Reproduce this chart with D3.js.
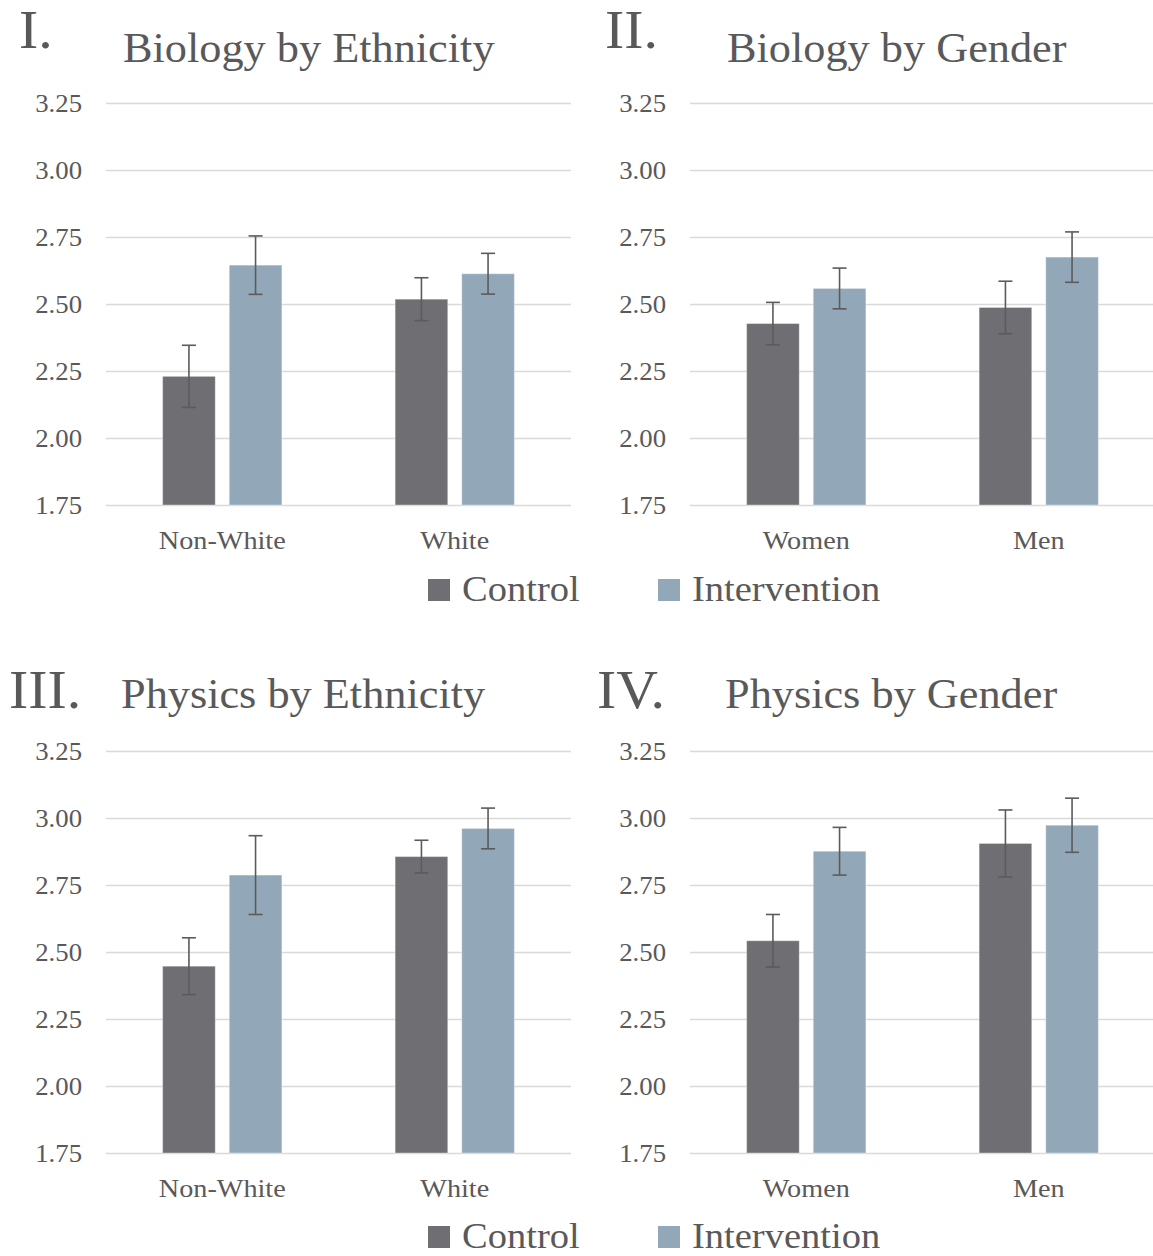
<!DOCTYPE html>
<html>
<head>
<meta charset="utf-8">
<script src="https://cdn.jsdelivr.net/npm/d3@7"></script>
<style>
  html, body { margin: 0; padding: 0; background: #fff; }
  svg { display: block; }
  svg text { font-family: "Liberation Serif", "DejaVu Serif", serif; fill: #595959; }
</style>
</head>
<body>
<svg id="chart" width="1153" height="1256"></svg>
<script>
// Series and categories
const series = ["Control", "Intervention"];
const ethnicityCategories = ["Non-White", "White"];
const genderCategories = ["Women", "Men"];
const yTicks = [1.75, 2.00, 2.25, 2.50, 2.75, 3.00, 3.25];
const yTickLabels = ["1.75", "2.00", "2.25", "2.50", "2.75", "3.00", "3.25"];

// Mean scores and error margins, one array per panel and series
const bioEthnicityControl = [2.230, 2.518];
const bioEthnicityControlErr = [0.116, 0.080];
const bioEthnicityIntervention = [2.645, 2.613];
const bioEthnicityInterventionErr = [0.109, 0.076];

const bioGenderControl = [2.427, 2.487];
const bioGenderControlErr = [0.079, 0.098];
const bioGenderIntervention = [2.558, 2.675];
const bioGenderInterventionErr = [0.076, 0.094];

const physEthnicityControl = [2.447, 2.856];
const physEthnicityControlErr = [0.106, 0.061];
const physEthnicityIntervention = [2.787, 2.961];
const physEthnicityInterventionErr = [0.147, 0.076];

const physGenderControl = [2.542, 2.905];
const physGenderControlErr = [0.098, 0.125];
const physGenderIntervention = [2.876, 2.973];
const physGenderInterventionErr = [0.089, 0.101];

const panelNumerals = ["I.", "II.", "III.", "IV."];
const panelTitles = ["Biology by Ethnicity", "Biology by Gender", "Physics by Ethnicity", "Physics by Gender"];

// Styling
const fontStack = "'Liberation Serif', 'DejaVu Serif', serif";
const textColor = "#595959";
const colors = { Control: "#6f6e73", Intervention: "#92a8b8" };
const gridColor = "#d9d9d9";
const errColor = "#5b5b5b";
const widen = 1.07; // horizontal stretch to give the serif a rounder, wider set

// Widen text horizontally while keeping its anchor
function widenText(sel, k) {
  sel.each(function () {
    const len = this.getComputedTextLength();
    d3.select(this).attr("textLength", len * k).attr("lengthAdjust", "spacingAndGlyphs");
  });
}

const svg = d3.select("#chart");

// Layout of the four panels
const plotW = 465, plotH = 402;
const layouts = [
  { left: 106, top: 103, numX: 19, numY: 48, titleX: 123, titleY: 62, cats: ethnicityCategories,
    ctrl: bioEthnicityControl, ctrlErr: bioEthnicityControlErr, intv: bioEthnicityIntervention, intvErr: bioEthnicityInterventionErr },
  { left: 690, top: 103, numX: 605, numY: 48, titleX: 727, titleY: 62, cats: genderCategories,
    ctrl: bioGenderControl, ctrlErr: bioGenderControlErr, intv: bioGenderIntervention, intvErr: bioGenderInterventionErr },
  { left: 106, top: 751, numX: 9, numY: 708, titleX: 121, titleY: 708, cats: ethnicityCategories,
    ctrl: physEthnicityControl, ctrlErr: physEthnicityControlErr, intv: physEthnicityIntervention, intvErr: physEthnicityInterventionErr },
  { left: 690, top: 751, numX: 597, numY: 708, titleX: 725, titleY: 708, cats: genderCategories,
    ctrl: physGenderControl, ctrlErr: physGenderControlErr, intv: physGenderIntervention, intvErr: physGenderInterventionErr }
];

const y = d3.scaleLinear().domain([1.75, 3.25]).range([plotH, 0]);

layouts.forEach((p, i) => {
  const g = svg.append("g").attr("transform", `translate(${p.left},${p.top})`);

  // Panel numeral and title
  svg.append("text").attr("x", p.numX).attr("y", p.numY)
    .attr("font-size", 54).text(panelNumerals[i]).call(widenText, widen);
  svg.append("text").attr("x", p.titleX).attr("y", p.titleY)
    .attr("font-size", 43).text(panelTitles[i]).call(widenText, 1.03);

  // Horizontal gridlines
  g.selectAll("line.grid").data(yTicks).join("line")
    .attr("class", "grid")
    .attr("x1", 0).attr("x2", plotW)
    .attr("y1", d => Math.round(y(d)) + 0.5).attr("y2", d => Math.round(y(d)) + 0.5)
    .attr("stroke", gridColor).attr("stroke-width", 1.3);

  // Y axis labels
  const yAxis = d3.axisLeft(y).tickValues(yTicks)
    .tickFormat((d, k) => yTickLabels[k]).tickSize(0).tickPadding(24);
  const ya = g.append("g").call(yAxis)
    .attr("font-family", fontStack).attr("font-size", 25);
  ya.select(".domain").remove();
  ya.selectAll("text").attr("fill", textColor).attr("dy", "8.5px")
    .call(widenText, widen);

  // Category and series scales
  const x0 = d3.scaleBand().domain(p.cats).range([0, plotW]);
  const x1 = d3.scaleBand().domain(series).range([0, x0.bandwidth()])
    .paddingInner(0.21).paddingOuter(0.85);

  const rows = p.cats.map((c, k) => ({
    cat: c,
    values: [
      { s: "Control", v: p.ctrl[k], e: p.ctrlErr[k] },
      { s: "Intervention", v: p.intv[k], e: p.intvErr[k] }
    ]
  }));

  const groups = g.selectAll("g.cat").data(rows).join("g")
    .attr("class", "cat")
    .attr("transform", d => `translate(${x0(d.cat)},0)`);

  groups.selectAll("rect").data(d => d.values).join("rect")
    .attr("x", d => x1(d.s))
    .attr("y", d => y(d.v))
    .attr("width", x1.bandwidth())
    .attr("height", d => y(1.75) - y(d.v))
    .attr("fill", d => colors[d.s])
    .attr("stroke", "rgba(255,255,255,0.35)")
    .attr("stroke-width", 1);

  // Error bars
  const capW = 14;
  const cx = d => x1(d.s) + x1.bandwidth() / 2;
  const eb = groups.selectAll("g.err").data(d => d.values).join("g").attr("class", "err")
    .attr("stroke", errColor).attr("stroke-width", 1.6);
  eb.append("line")
    .attr("x1", cx).attr("x2", cx)
    .attr("y1", d => y(d.v + d.e)).attr("y2", d => y(d.v - d.e));
  eb.append("line")
    .attr("x1", d => cx(d) - capW / 2).attr("x2", d => cx(d) + capW / 2)
    .attr("y1", d => y(d.v + d.e)).attr("y2", d => y(d.v + d.e));
  eb.append("line")
    .attr("x1", d => cx(d) - capW / 2).attr("x2", d => cx(d) + capW / 2)
    .attr("y1", d => y(d.v - d.e)).attr("y2", d => y(d.v - d.e));

  // Category axis labels
  const xAxis = d3.axisBottom(x0).tickSize(0).tickPadding(0);
  const xa = g.append("g").attr("transform", `translate(0,${plotH})`).call(xAxis)
    .attr("font-family", fontStack).attr("font-size", 26);
  xa.select(".domain").remove();
  xa.selectAll("text").attr("fill", textColor).attr("dy", "44px")
    .call(widenText, 1.085);
});

// Legends below each row of panels
[590, 1237].forEach(ly => {
  const lg = svg.append("g").attr("transform", `translate(0,${ly})`);
  const legendX = { Control: 428, Intervention: 658 };
  series.forEach(s => {
    lg.append("rect").attr("x", legendX[s]).attr("y", -11).attr("width", 22).attr("height", 22)
      .attr("fill", colors[s]);
    lg.append("text").attr("x", legendX[s] + 34).attr("y", 11)
      .attr("font-size", 35).text(s).call(widenText, 1.1);
  });
});
</script>
</body>
</html>
